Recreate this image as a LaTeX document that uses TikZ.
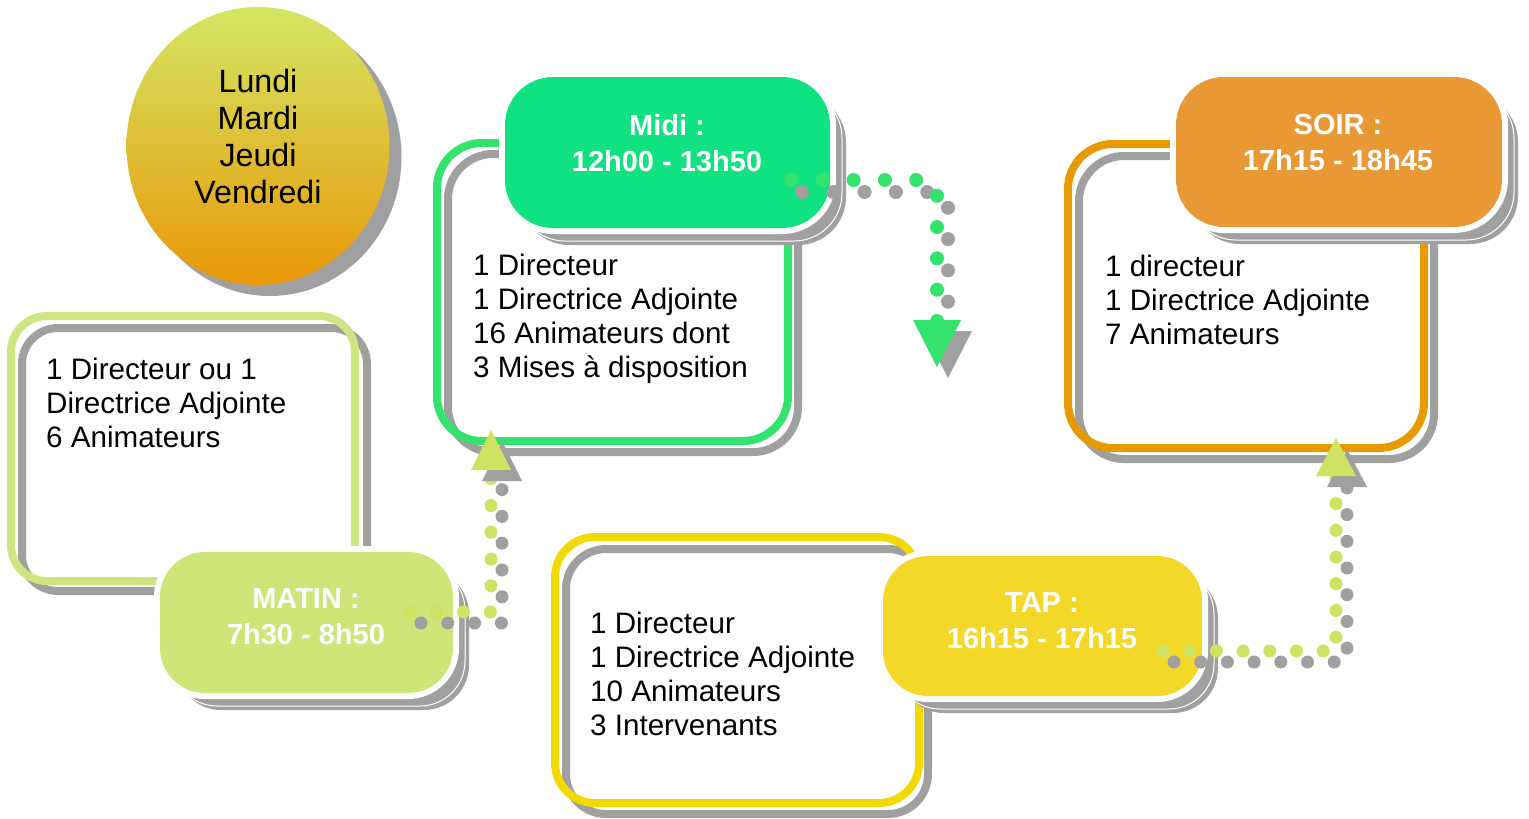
\documentclass[tikz,border=0pt]{standalone}
\usepackage{fontspec}
\setmainfont{Liberation Sans}
\usetikzlibrary{calc}
\definecolor{limefill}{RGB}{206,229,122}
\definecolor{limeline}{RGB}{205,229,130}
\definecolor{limedot}{RGB}{207,226,98}
\definecolor{midigreen}{RGB}{16,226,130}
\definecolor{greenline}{RGB}{52,226,110}
\definecolor{tapyellow}{RGB}{243,216,42}
\definecolor{yellowline}{RGB}{242,218,0}
\definecolor{soirorange}{RGB}{232,152,52}
\definecolor{orangeline}{RGB}{231,153,0}
\definecolor{shadowgray}{RGB}{160,160,160}
\definecolor{circtop}{RGB}{212,230,100}
\definecolor{circbot}{RGB}{233,152,8}
\begin{document}
\begin{tikzpicture}[x={(1pt,0pt)},y={(0pt,-1pt)},
  outlinebox/.style={line width=8pt, rounded corners=#1},
  headshadow/.style={fill=shadowgray, rounded corners=#1},
  headring/.style={draw=white, line width=12pt, rounded corners=#1},
  bodytext/.style={anchor=north west, inner sep=0pt, align=left, text=black,
    font=\fontsize{29.6}{34}\selectfont},
  headtext/.style={anchor=north, inner sep=0pt, align=center, text=white,
    font=\fontsize{29}{36}\selectfont\bfseries},
  dotline/.style={line width=13pt, line cap=round, dash pattern=on 0pt off #1},
]
\useasboundingbox (0,0) rectangle (1529,819);
\fill[white] (0,0) rectangle (1529,819);

% ---- circle
\fill[shadowgray] (270,157) ellipse [x radius=131.5pt, y radius=139pt];
\shade[top color=circtop, bottom color=circbot] (258,146) ellipse [x radius=131.5pt, y radius=139pt];
\node[anchor=north, inner sep=0pt, align=center, font=\fontsize{32.2}{37}\selectfont] (days) at (258,69)
  {Lundi\\Mardi\\Jeudi\\Vendredi};

% ---- outline boxes
\draw[outlinebox=36pt, shadowgray] (22,328) rectangle (367,591);
\draw[outlinebox=36pt, limeline] (11,316) rectangle (355,581);

\draw[outlinebox=45pt, shadowgray] (448,154) rectangle (798,452);
\draw[outlinebox=45pt, greenline] (437,143) rectangle (788,441);

\draw[outlinebox=40pt, shadowgray] (566,549) rectangle (928,814);
\draw[outlinebox=40pt, yellowline] (555,537) rectangle (919,803);

\draw[outlinebox=45pt, shadowgray] (1079,156) rectangle (1434,459);
\draw[outlinebox=45pt, orangeline] (1068,144) rectangle (1424,448);

% ---- header boxes
% Matin
\fill[headshadow=45pt] (176,569) rectangle (469,710);
\draw[white, line width=1pt, rounded corners=45pt] (172,565) rectangle (465,706);
\draw[headring=45pt] (160,552) rectangle (453,693);
\fill[limefill, rounded corners=45pt] (160,552) rectangle (453,693);
% Midi
\fill[headshadow=48pt] (521,94) rectangle (846,245);
\draw[white, line width=1pt, rounded corners=48pt] (517,90) rectangle (842,241);
\draw[headring=48pt] (505,77) rectangle (830,228);
\fill[midigreen, rounded corners=48pt] (505,77) rectangle (830,228);
% TAP
\fill[headshadow=45pt] (899,573) rectangle (1218,713);
\draw[white, line width=1pt, rounded corners=45pt] (895,569) rectangle (1214,709);
\draw[headring=45pt] (883,556) rectangle (1202,696);
\fill[tapyellow, rounded corners=45pt] (883,556) rectangle (1202,696);
% Soir
\fill[headshadow=48pt] (1192,94) rectangle (1518,244);
\draw[white, line width=1pt, rounded corners=48pt] (1188,90) rectangle (1514,240);
\draw[headring=48pt] (1176,77) rectangle (1502,227);
\fill[soirorange, rounded corners=48pt] (1176,77) rectangle (1502,227);

% ---- texts
\node[headtext] (matinhead) at (306,588) {MATIN :\\7h30 - 8h50};
\node[headtext] (midihead) at (667,114) {Midi :\\12h00 - 13h50};
\node[headtext] (taphead) at (1042,592) {TAP :\\16h15 - 17h15};
\node[headtext] (soirhead) at (1338,114) {SOIR :\\17h15 - 18h45};

\node[bodytext] (matinbody) at (46,358) {1 Directeur ou 1\\Directrice Adjointe\\6 Animateurs};
\node[bodytext] (midibody) at (473,254) {1 Directeur\\1 Directrice Adjointe\\16 Animateurs dont\\3 Mises à disposition};
\node[bodytext] (tapbody) at (590,612) {1 Directeur\\1 Directrice Adjointe\\10 Animateurs\\3 Intervenants};
\node[bodytext] (soirbody) at (1105,255) {1 directeur\\1 Directrice Adjointe\\7 Animateurs};

% ---- connectors
% Matin -> Midi
\coordinate (ma) at (410,612);
\coordinate (mb) at (491,477);
\draw[dotline=26.8pt, shadowgray] ($(ma)+(11,11)$) -| ($(mb)+(11,11)$);
\draw[dotline=26.8pt, limedot] (ma) -| (mb);
\fill[shadowgray] (502,441) -- (482,481) -- (522,481) -- cycle;
\fill[limedot] (491,430) -- (471,470) -- (511,470) -- cycle;

% Midi -> (down)
\coordinate (da) at (791,180);
\coordinate (db) at (937,322);
\draw[dotline=31.3pt, line width=14pt, shadowgray, rounded corners=12pt] ($(da)+(11,12)$) -| ($(db)+(11,12)$);
\draw[dotline=31.3pt, line width=14pt, greenline, rounded corners=12pt] (da) -| (db);
\fill[shadowgray] (948,378) -- (924,331) -- (972,331) -- cycle;
\fill[greenline] (937,367) -- (913,320) -- (961,320) -- cycle;

% TAP -> Soir
\coordinate (ta) at (1163,651);
\coordinate (tb) at (1336,474);
\draw[dotline=26.7pt, shadowgray] ($(ta)+(11,11)$) -| ($(tb)+(11,11)$);
\draw[dotline=26.7pt, limedot] (ta) -| (tb);
\fill[shadowgray] (1347,449) -- (1327,487) -- (1367,487) -- cycle;
\fill[limedot] (1336,438) -- (1316,476) -- (1356,476) -- cycle;
\end{tikzpicture}
\end{document}
